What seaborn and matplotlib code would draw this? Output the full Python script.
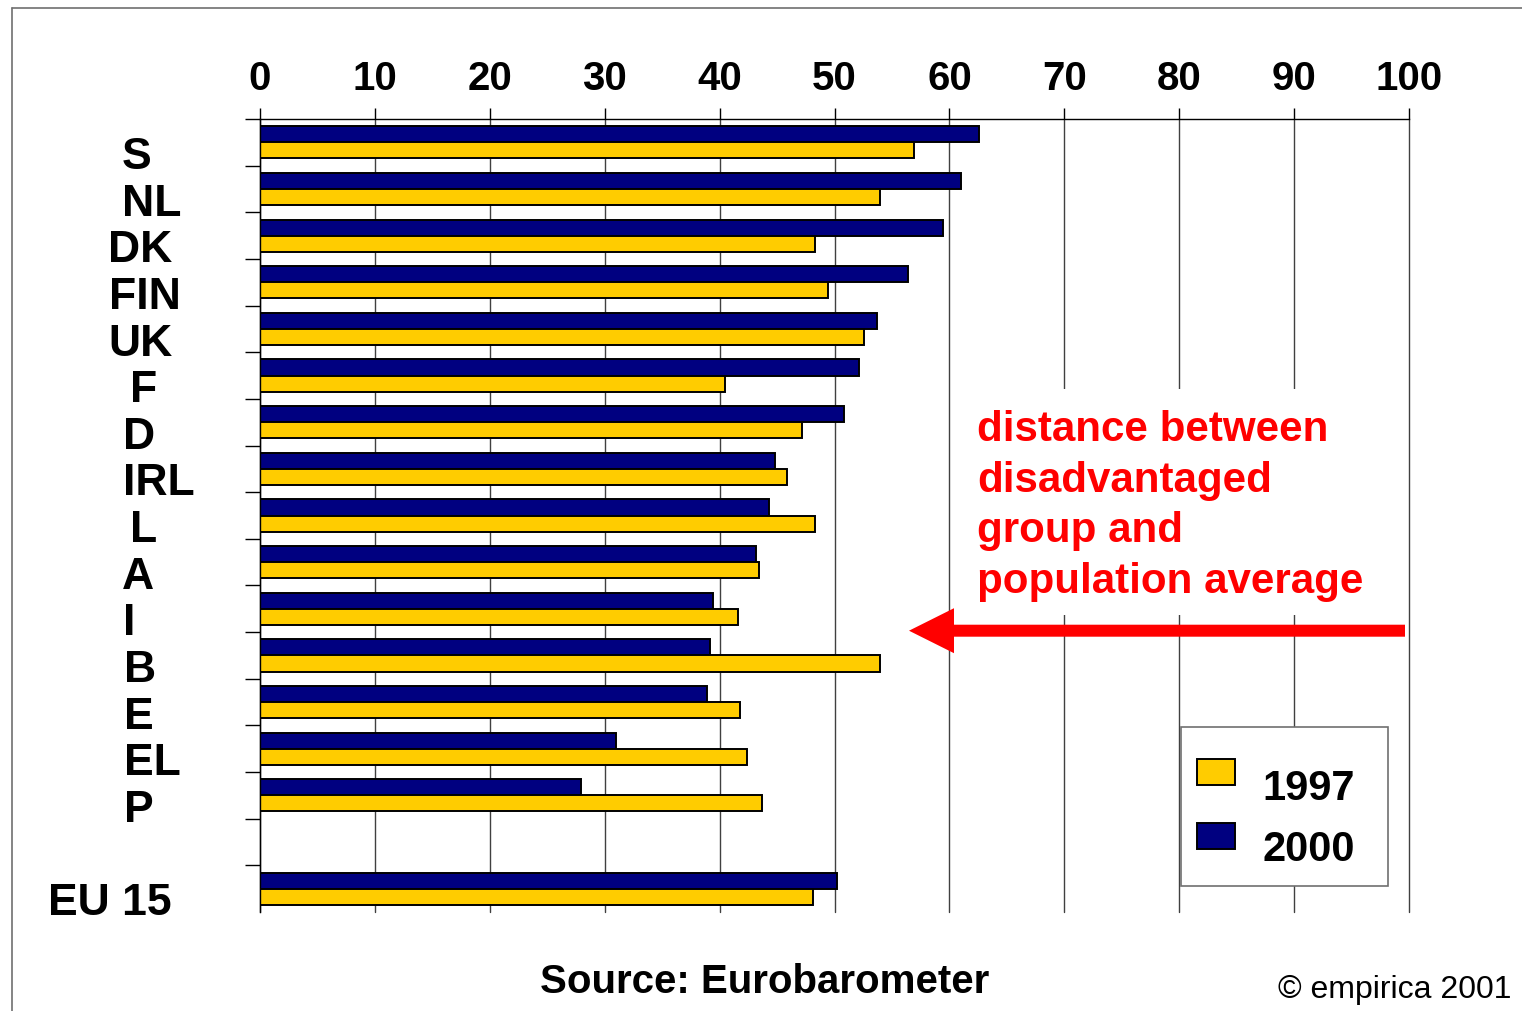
import pandas as pd
import numpy as np
import matplotlib
matplotlib.use('Agg')
import matplotlib.pyplot as plt
import matplotlib.patches as mpatches
import matplotlib.transforms as mtransforms
from matplotlib.lines import Line2D
import seaborn as sns

# Data
countries = ['S', 'NL', 'DK', 'FIN', 'UK', 'F', 'D', 'IRL', 'L', 'A', 'I', 'B', 'E', 'EL', 'P', 'EU 15']
v2000 = [62.6, 61.0, 59.4, 56.4, 53.7, 52.1, 50.8, 44.8, 44.3, 43.2, 39.4, 39.2, 38.9, 31.0, 27.9, 50.2]
v1997 = [56.9, 54.0, 48.3, 49.4, 52.6, 40.5, 47.2, 45.9, 48.3, 43.4, 41.6, 54.0, 41.8, 42.4, 43.7, 48.1]
years = ['2000', '1997']
legend_years = ['1997', '2000']
xticks = list(range(0, 101, 10))
note_lines = ['distance between', 'disadvantaged', 'group and', 'population average']

# empty slot between P and EU 15
order = countries[:-1] + [' '] + countries[-1:]

df = pd.DataFrame({
    'country': countries * 2,
    'value': v2000 + v1997,
    'year': ['2000'] * len(countries) + ['1997'] * len(countries),
})

colors = {'2000': '#000080', '1997': '#FFCC00'}

sns.set_theme(style='white')
plt.rcParams['font.family'] = ['Liberation Sans', 'DejaVu Sans']
plt.rcParams['text.color'] = 'black'
plt.rcParams['xtick.color'] = 'black'
plt.rcParams['ytick.color'] = 'black'

W, H = 1522, 1011
fig = plt.figure(figsize=(W / 100, H / 100), dpi=100)
ax = fig.add_axes([260 / W, (H - 912) / H, 1149 / W, 793 / H])

sns.barplot(data=df, y='country', x='value', hue='year', order=order,
            hue_order=years, palette=colors, saturation=1, orient='h', width=0.69,
            edgecolor='black', linewidth=1.4, errorbar=None, legend=False, ax=ax)

ax.set_xlim(0, 100)
ax.set_ylim(len(order) - 0.5, -0.5)
ax.set_xlabel('')
ax.set_ylabel('')
ax.xaxis.tick_top()
ax.set_xticks(xticks)
ax.set_xticklabels([str(t) for t in xticks], fontsize=29, fontweight='bold', color='black')
ax.tick_params(axis='x', which='major', top=True, bottom=False, length=8,
               width=1, color='black', pad=7, direction='out')
ax.set_yticks([])
ax.set_yticks(np.arange(-0.5, len(order) - 1, 1.0), minor=True)
ax.tick_params(axis='y', which='minor', left=True, length=11, width=1,
               color='black', direction='out')
ax.grid(axis='x', color='#404040', linewidth=1)
ax.set_axisbelow(True)
for gl in ax.get_xgridlines():
    gl.set_clip_on(False)
for side in ['right', 'bottom']:
    ax.spines[side].set_visible(False)
for side in ['top', 'left']:
    ax.spines[side].set_color('black')
    ax.spines[side].set_linewidth(1)

# pixel coordinates (origin top-left) -> figure
pix = mtransforms.Affine2D().scale(1 / W, -1 / H).translate(0, 1) + fig.transFigure

# category labels
label_x = {'S': 122, 'NL': 122, 'DK': 108, 'FIN': 109, 'UK': 108, 'F': 130,
           'D': 123, 'IRL': 123, 'L': 130, 'A': 122, 'I': 123, 'B': 124,
           'E': 124, 'EL': 124, 'P': 124, 'EU 15': 48}
lab_trans = mtransforms.blended_transform_factory(pix, ax.transData)
for c in countries:
    ax.text(label_x[c], order.index(c) + 0.57, c, transform=lab_trans,
            ha='left', va='baseline', fontsize=32, fontweight='bold',
            color='black', clip_on=False)

# outer frame
fig.add_artist(Line2D([12, 1522], [8, 8], transform=pix, color='#707070', lw=1.2))
fig.add_artist(Line2D([12, 12], [8, 1011], transform=pix, color='#707070', lw=1.2))

# annotation block
fig.add_artist(mpatches.Rectangle((962, 389), 436, 226, transform=pix,
                                  facecolor='white', edgecolor='none', zorder=2))
for i, line in enumerate(note_lines):
    fig.text(977, 441 + 50.7 * i, line, transform=pix, ha='left', va='baseline',
             fontsize=30.3, fontweight='bold', color='#FF0000', zorder=3)
fig.add_artist(mpatches.FancyArrow(1405, 630.7, -496, 0, width=12, head_width=45,
                                   head_length=45, length_includes_head=True,
                                   transform=pix, color='#FF0000', lw=0, zorder=3))

# legend box, drawn by hand to match the offset of text and swatches
fig.add_artist(mpatches.Rectangle((1181, 727), 207, 159, transform=pix,
                                  facecolor='white', edgecolor='#707070', lw=1.2, zorder=2))
for i, y in enumerate(legend_years):
    fig.add_artist(mpatches.Rectangle((1197, 759 + 63.5 * i), 38, 26, transform=pix,
                                      facecolor=colors[y], edgecolor='black',
                                      lw=1.4, zorder=3))
    fig.text(1262, 800 + 61 * i, y, transform=pix, ha='left', va='baseline',
             fontsize=30, fontweight='bold', color='black', zorder=3)

fig.text(765, 993, 'Source: Eurobarometer', transform=pix, ha='center',
         va='baseline', fontsize=29, fontweight='bold', color='black')
fig.text(1512, 998, '\u00a9 empirica 2001', transform=pix, ha='right',
         va='baseline', fontsize=23, color='black')

fig.savefig('out.png', dpi=100, facecolor='white')
